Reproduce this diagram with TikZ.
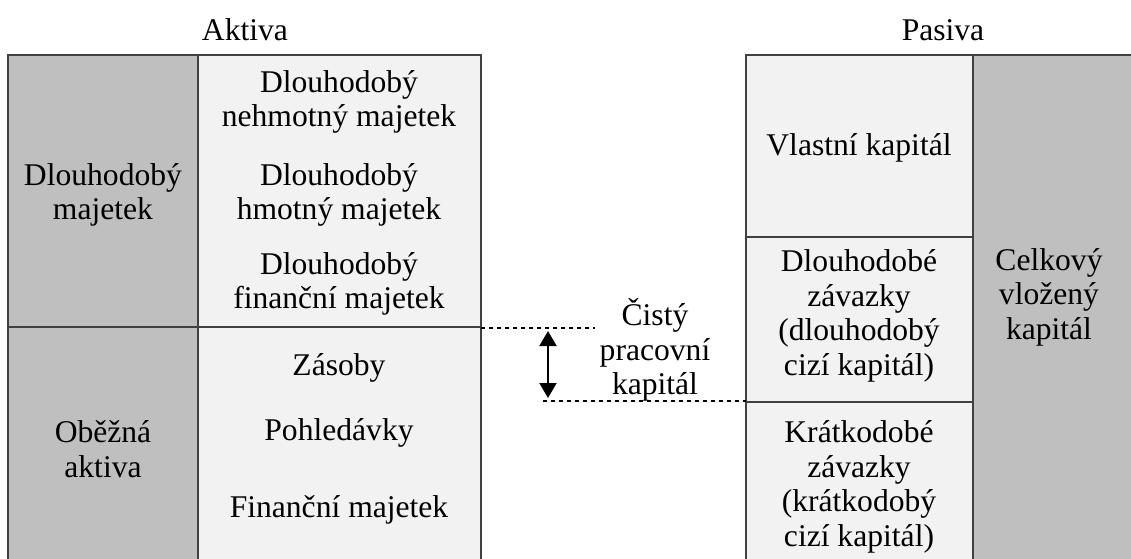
\documentclass[tikz,border=0pt]{standalone}
\usepackage{fontspec}
\setmainfont{Liberation Serif}
\usetikzlibrary{arrows.meta}
\definecolor{tmava}{HTML}{BFBFBF}
\definecolor{svetla}{HTML}{F2F2F2}
\definecolor{ramec}{HTML}{404040}
\tikzset{
	popis/.style={align=center, font=\fontsize{15.8}{17.3}\selectfont},
	okraj/.style={draw=ramec, line width=.8pt},
	carky/.style={dash pattern=on 2pt off 2pt, line width=.6pt}
}

\begin{document}
\begin{tikzpicture}[x=0.5pt,y=-0.5pt]

	% Page frame
	\useasboundingbox (0,0) rectangle (1131,558);
	\clip (0,0) rectangle (1131,558);

	% Drawing the assets side
	\fill [tmava] (8,55) rectangle (198,570);
	\fill [svetla] (198,55) rectangle (481,570);
	\draw [okraj] (8,570) -- (8,55) -- (481,55) -- (481,570);
	\draw [okraj] (198,55) -- (198,570);
	\draw [okraj] (8,327) -- (481,327);

	% Drawing the liabilities side
	\fill [svetla] (746,55) rectangle (973,570);
	\fill [tmava] (973,55) rectangle (1140,570);
	\draw [okraj] (746,570) -- (746,55) -- (1140,55);
	\draw [okraj] (973,55) -- (973,570);
	\draw [okraj] (746,237) -- (973,237);
	\draw [okraj] (746,402) -- (973,402);

	% Labeling the assets
	\node [popis] (aktiva) at (245,30) {Aktiva};
	\node [popis] (dlmaj) at (103,195) {Dlouhodobý\\majetek};
	\node [popis] (obezna) at (103,449) {Oběžná\\aktiva};
	\node [popis] (nehmotny) at (339,102) {Dlouhodobý\\nehmotný majetek};
	\node [popis] (hmotny) at (339,195) {Dlouhodobý\\hmotný majetek};
	\node [popis] (financni) at (339,284) {Dlouhodobý\\finanční majetek};
	\node [popis] (zasoby) at (339,368) {Zásoby};
	\node [popis] (pohledavky) at (339,433) {Pohledávky};
	\node [popis] (finmaj) at (339,510) {Finanční majetek};

	% Labeling the liabilities
	\node [popis] (pasiva) at (943,30) {Pasiva};
	\node [popis] (vlastni) at (859,148) {Vlastní kapitál};
	\node [popis] (dlzav) at (859,316) {Dlouhodobé\\závazky\\(dlouhodobý\\cizí kapitál)};
	\node [popis] (krzav) at (859,487) {Krátkodobé\\závazky\\(krátkodobý\\cizí kapitál)};
	\node [popis] (celkovy) at (1049,297) {Celkový\\vložený\\kapitál};

	% Net working capital
	\coordinate (horniL) at (481,328);
	\coordinate (horniP) at (595,328);
	\coordinate (dolniL) at (543,401);
	\coordinate (dolniP) at (746,401);
	\coordinate (sipkaA) at (548,331);
	\coordinate (sipkaB) at (548,398);
	\draw [carky] (horniL) -- (horniP);
	\draw [carky] (dolniL) -- (dolniP);
	\draw [{Triangle[width=8.5pt,length=7.5pt]}-{Triangle[width=8.5pt,length=7.5pt]}, line width=1pt] (sipkaA) -- (sipkaB);
	\node [popis] (cpk) at (655,350) {Čistý\\pracovní\\kapitál};

\end{tikzpicture}
\end{document}
